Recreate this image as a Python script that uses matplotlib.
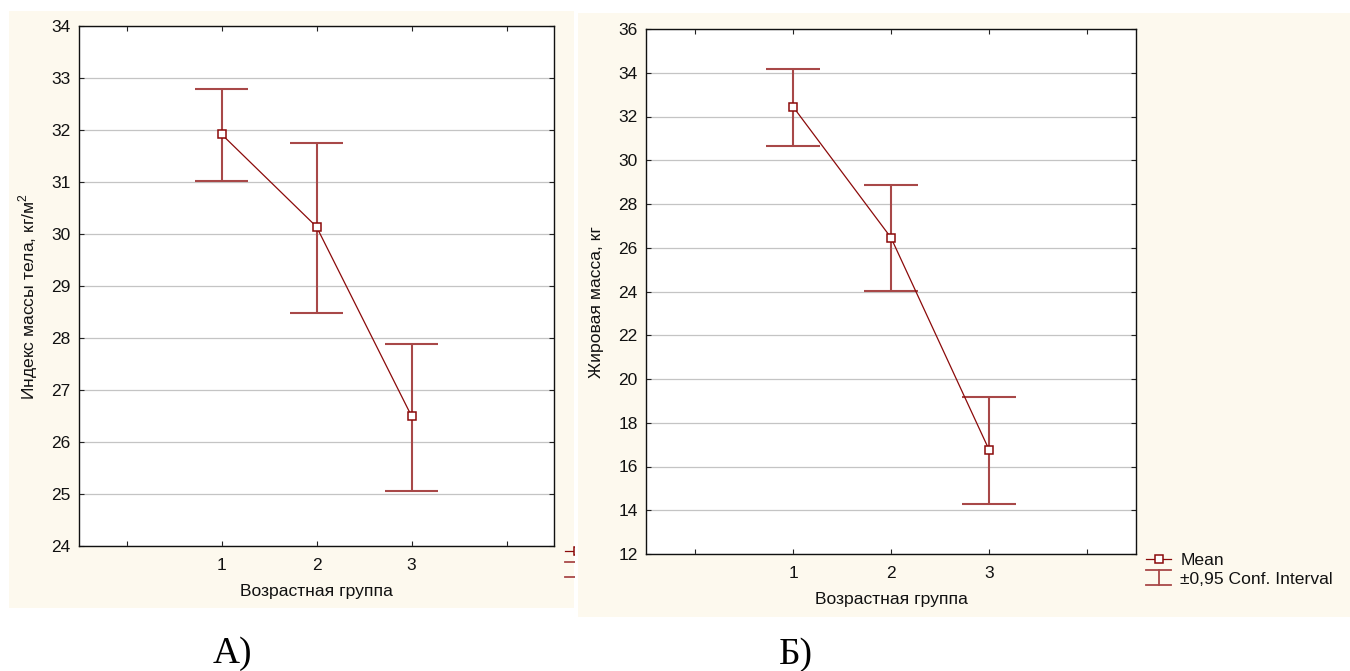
import matplotlib
matplotlib.use("Agg")
import matplotlib.pyplot as plt
from matplotlib.lines import Line2D
from matplotlib.patches import Rectangle
from matplotlib.legend_handler import HandlerBase

# ---------------- data ----------------
groups = [1, 2, 3]
xtick_labels = ["1", "2", "3"]
xtick_minor = [0, 4]

bmi_mean = [31.92, 30.14, 26.50]
bmi_low = [31.01, 28.48, 25.05]
bmi_high = [32.79, 31.75, 27.89]
bmi_yticks = [24, 25, 26, 27, 28, 29, 30, 31, 32, 33, 34]

fat_mean = [32.45, 26.46, 16.77]
fat_low = [30.67, 24.02, 14.28]
fat_high = [34.19, 28.85, 19.17]
fat_yticks = [12, 14, 16, 18, 20, 22, 24, 26, 28, 30, 32, 34, 36]

xlabel = "Возрастная группа"
ylabel_left = "Индекс массы тела, кг/м$^2$"
ylabel_right = "Жировая масса, кг"
legend_labels = ["Mean", "±0,95 Conf. Interval"]
panel_labels = ["А)", "Б)"]

# ---------------- style ----------------
W, H = 1350, 671
BEIGE = "#fdf9ee"
LINE_C = "#8b0a0a"
ERR_C = "#a84848"
GRID_C = "#c4c4c4"
SANS = ["Liberation Sans", "DejaVu Sans"]
SERIF = ["Liberation Serif", "DejaVu Serif"]
TICK_FS = 12.5
LAB_FS = 12.6
CAP_HALF = 0.275

plt.rcParams["font.family"] = SANS
plt.rcParams["mathtext.fontset"] = "custom"
plt.rcParams["mathtext.rm"] = "Liberation Sans"

fig = plt.figure(figsize=(W / 100, H / 100), dpi=100)
fig.patch.set_facecolor("white")


def fig_rect(x0, y0, x1, y1):
    """pixel box (top-left origin) -> figure fraction [l, b, w, h]"""
    return [x0 / W, 1 - y1 / H, (x1 - x0) / W, (y1 - y0) / H]


class HandlerCI(HandlerBase):
    def create_artists(self, legend, orig_handle, xdescent, ydescent,
                       width, height, fontsize, trans):
        c = orig_handle.get_color()
        lw = orig_handle.get_linewidth()
        x0, x1 = -xdescent, width - xdescent
        cx = (x0 + x1) / 2
        yc = height / 2 - ydescent
        half = 0.43 * fontsize
        arts = [
            Line2D([cx, cx], [yc - half, yc + half], color=c, lw=lw),
            Line2D([x0, x1], [yc + half, yc + half], color=c, lw=lw),
            Line2D([x0, x1], [yc - half, yc - half], color=c, lw=lw),
        ]
        for a in arts:
            a.set_transform(trans)
        return arts


def draw_panel(ax, means, lows, highs, yticks, ylabel, ylabel_xy, xlabel_y):
    ax.set_facecolor("white")
    ax.set_xlim(-0.5, 4.5)
    ax.set_ylim(yticks[0], yticks[-1])
    ax.set_yticks(yticks)
    ax.set_xticks(groups, xtick_labels)
    ax.set_xticks(xtick_minor, minor=True)
    ax.yaxis.grid(True, color=GRID_C, lw=0.9, zorder=0)
    ax.set_axisbelow(True)
    ax.tick_params(axis="both", which="both", direction="in", length=3.5,
                   width=0.8, top=True, right=True, labelsize=TICK_FS,
                   labelcolor="#111111", color="#222222")
    ax.tick_params(axis="y", pad=6)
    ax.tick_params(axis="x", which="major", pad=9)
    for s in ax.spines.values():
        s.set_color("#111111")
        s.set_linewidth(1.0)
    # confidence intervals
    ax.vlines(groups, lows, highs, color=ERR_C, lw=1.5, zorder=3)
    ax.hlines(lows, [g - CAP_HALF for g in groups], [g + CAP_HALF for g in groups],
              color=ERR_C, lw=1.5, zorder=3)
    ax.hlines(highs, [g - CAP_HALF for g in groups], [g + CAP_HALF for g in groups],
              color=ERR_C, lw=1.5, zorder=3)
    # means
    ax.plot(groups, means, color=LINE_C, lw=0.9, marker="s", ms=5.5,
            mfc="white", mec=LINE_C, mew=1.1, zorder=4)
    ax.set_xlabel(xlabel, fontsize=LAB_FS, color="#111111")
    ax.xaxis.set_label_coords(0.5, xlabel_y)
    ax.set_ylabel(ylabel, fontsize=LAB_FS, color="#111111")
    ax.yaxis.set_label_coords(*ylabel_xy)


def add_legend(ax, left_px, top_px, show_text=True):
    mean_h = Line2D([], [], color=LINE_C, lw=0.9, marker="s", ms=5.5,
                    mfc="white", mec=LINE_C, mew=1.1)
    ci_h = Line2D([], [], color=ERR_C, lw=1.3)
    leg = ax.legend([mean_h, ci_h], legend_labels,
                    handler_map={ci_h: HandlerCI()},
                    loc="upper left",
                    bbox_to_anchor=(left_px / W, 1 - top_px / H),
                    bbox_transform=fig.transFigure,
                    frameon=False, borderpad=0, borderaxespad=0,
                    handlelength=1.45, handletextpad=0.5, labelspacing=0.2,
                    numpoints=1, fontsize=LAB_FS)
    for t in leg.get_texts():
        t.set_color("#111111")
        # the left panel's legend is cut off by the right panel in the source
        t.set_visible(show_text)
    return leg


# ---- left panel background ----
bgL = fig.add_axes(fig_rect(9, 11, 574, 608), zorder=0)
bgL.set_facecolor(BEIGE)
bgL.set_xticks([]); bgL.set_yticks([])
for s in bgL.spines.values():
    s.set_visible(False)

axL = fig.add_axes(fig_rect(79, 26, 554, 546), zorder=1)
draw_panel(axL, bmi_mean, bmi_low, bmi_high, bmi_yticks, ylabel_left,
           ((40 - 79) / 475, 0.48), (546 - 584) / 520)
add_legend(axL, 565, 545, show_text=False)

# ---- right panel background (covers the clipped left legend) ----
bgR = fig.add_axes(fig_rect(575, 11, 1350, 617), zorder=2)
bgR.set_facecolor("white")
bgR.set_xlim(575, 1350); bgR.set_ylim(617, 11)
bgR.add_patch(Rectangle((578, 13), 1350 - 578, 617 - 13, color=BEIGE, lw=0))
bgR.set_xticks([]); bgR.set_yticks([])
for s in bgR.spines.values():
    s.set_visible(False)

axR = fig.add_axes(fig_rect(646, 29, 1136, 554), zorder=3)
draw_panel(axR, fat_mean, fat_low, fat_high, fat_yticks, ylabel_right,
           ((604 - 646) / 490, 0.48), (554 - 592) / 525)
add_legend(axR, 1146, 553)

# ---- panel captions ----
fig.text(232 / W, 1 - 654 / H, panel_labels[0], ha="center", va="center",
         fontsize=27, family=SERIF, color="black")
fig.text(796 / W, 1 - 655 / H, panel_labels[1], ha="center", va="center",
         fontsize=27, family=SERIF, color="black")

fig.savefig("out.png", dpi=100, facecolor="white")
